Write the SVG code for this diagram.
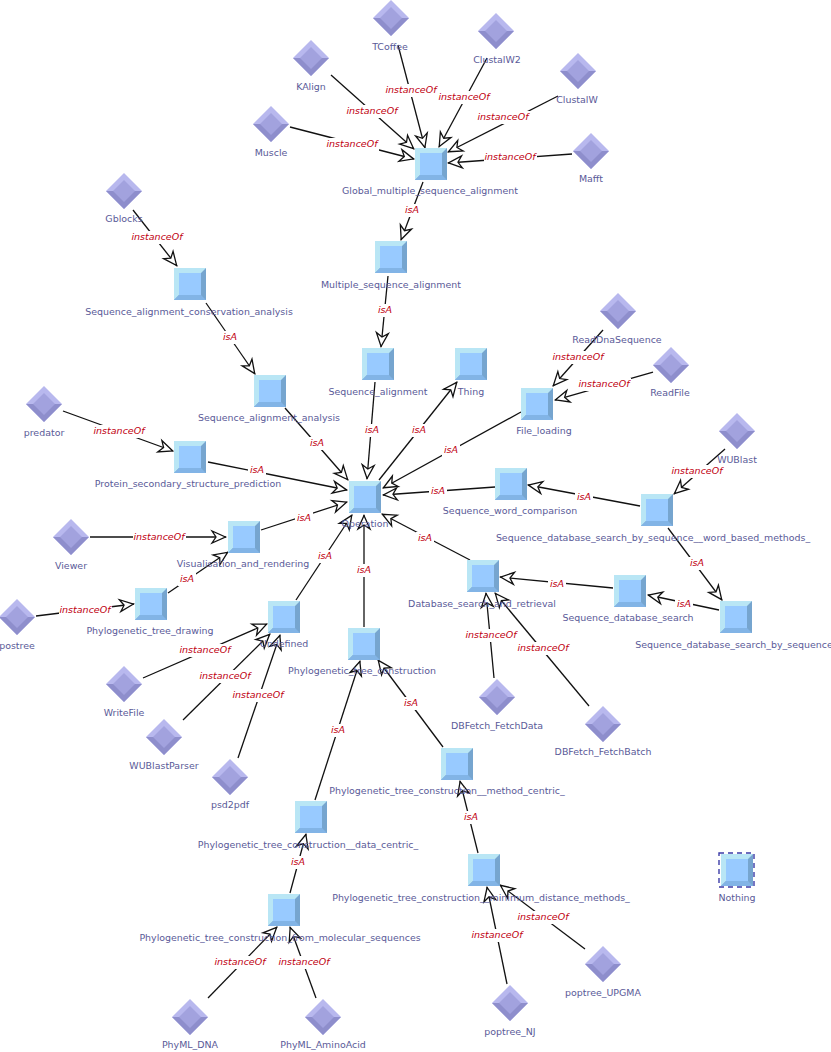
<svg xmlns="http://www.w3.org/2000/svg" xmlns:xlink="http://www.w3.org/1999/xlink" width="831" height="1052" viewBox="0 0 831 1052">
<style>
text{font-family:"DejaVu Sans","Liberation Sans",sans-serif;transform:translateY(-1px)}
.n{font-size:9.45px;fill:#5a5a98;text-anchor:middle}
.e{font-size:9.5px;fill:#c00010;font-style:italic;text-anchor:middle}
.c line{stroke:#111;stroke-width:1.3;marker-end:url(#a)}
.c rect{fill:#fff}
</style>
<defs>
<marker id="a" markerUnits="userSpaceOnUse" markerWidth="20" markerHeight="18" refX="17" refY="9" orient="auto"><path d="M16.5,9 L3,3 L7,9 L3,15 Z" fill="#fff" stroke="#111" stroke-width="1.3" stroke-linejoin="miter"/></marker>
<g id="sq"><rect x="-16" y="-16" width="32" height="32" fill="#b9e6f5"/><path d="M16,-16V16H-16L-11,11H11V-11Z" fill="#76a5cf"/><path d="M-16,16L-11,11H11L16,16Z" fill="#82b4e6"/><rect x="-11" y="-11" width="22" height="22" fill="#98caff"/></g>
<g id="di"><path d="M0,-18L18,0L0,18L-18,0Z" fill="#b8b8ee"/><path d="M18,0L0,18L-18,0L-10,0L0,10L10,0Z" fill="#8e8ecc"/><path d="M0,-11L11,0L0,11L-11,0Z" fill="#a2a2de"/></g>
</defs>
<g id="connectors" class="c">
<line x1="290" y1="127" x2="414" y2="159"/><rect x="326" y="138" width="53" height="13"/><text class="e" x="352" y="148">instanceOf</text>
<line x1="331" y1="75" x2="414" y2="149"/><rect x="346" y="105" width="53" height="13"/><text class="e" x="372" y="115">instanceOf</text>
<line x1="398" y1="45" x2="425" y2="148"/><rect x="385" y="84" width="53" height="13"/><text class="e" x="411" y="94">instanceOf</text>
<line x1="487" y1="58" x2="439" y2="147"/><rect x="438" y="91" width="53" height="13"/><text class="e" x="464" y="101">instanceOf</text>
<line x1="558" y1="96" x2="448" y2="152"/><rect x="477" y="111" width="53" height="13"/><text class="e" x="503" y="121">instanceOf</text>
<line x1="572" y1="154" x2="448" y2="163"/><rect x="484" y="151" width="53" height="13"/><text class="e" x="510" y="161">instanceOf</text>
<line x1="423" y1="182" x2="401" y2="240"/><rect x="403" y="204" width="18" height="13"/><text class="e" x="412" y="214">isA</text>
<line x1="388" y1="276" x2="381" y2="347"/><rect x="376" y="304" width="18" height="13"/><text class="e" x="385" y="314">isA</text>
<line x1="133" y1="210" x2="177" y2="266"/><rect x="131" y="231" width="53" height="13"/><text class="e" x="157" y="241">instanceOf</text>
<line x1="206" y1="303" x2="255" y2="374"/><rect x="221" y="331" width="18" height="13"/><text class="e" x="230" y="341">isA</text>
<line x1="285" y1="408" x2="348" y2="480"/><rect x="308" y="437" width="18" height="13"/><text class="e" x="317" y="447">isA</text>
<line x1="375" y1="382" x2="367" y2="479"/><rect x="363" y="424" width="18" height="13"/><text class="e" x="372" y="434">isA</text>
<line x1="379" y1="480" x2="457" y2="382"/><rect x="410" y="424" width="18" height="13"/><text class="e" x="419" y="434">isA</text>
<line x1="521" y1="412" x2="383" y2="488"/><rect x="442" y="444" width="18" height="13"/><text class="e" x="451" y="454">isA</text>
<line x1="603" y1="330" x2="553" y2="386"/><rect x="552" y="351" width="53" height="13"/><text class="e" x="578" y="361">instanceOf</text>
<line x1="653" y1="372" x2="555" y2="400"/><rect x="578" y="378" width="53" height="13"/><text class="e" x="604" y="388">instanceOf</text>
<line x1="63" y1="411" x2="173" y2="451"/><rect x="93" y="425" width="53" height="13"/><text class="e" x="119" y="435">instanceOf</text>
<line x1="208" y1="462" x2="347" y2="490"/><rect x="248" y="464" width="18" height="13"/><text class="e" x="257" y="474">isA</text>
<line x1="495" y1="487" x2="383" y2="495"/><rect x="429" y="485" width="18" height="13"/><text class="e" x="438" y="495">isA</text>
<line x1="640" y1="506" x2="528" y2="485"/><rect x="575" y="491" width="18" height="13"/><text class="e" x="584" y="501">isA</text>
<line x1="725" y1="449" x2="674" y2="494"/><rect x="671" y="465" width="53" height="13"/><text class="e" x="697" y="475">instanceOf</text>
<line x1="668" y1="528" x2="722" y2="600"/><rect x="688" y="557" width="18" height="13"/><text class="e" x="697" y="567">isA</text>
<line x1="719" y1="610" x2="648" y2="595"/><rect x="675" y="598" width="18" height="13"/><text class="e" x="684" y="608">isA</text>
<line x1="613" y1="588" x2="500" y2="577"/><rect x="548" y="578" width="18" height="13"/><text class="e" x="557" y="588">isA</text>
<line x1="470" y1="560" x2="382" y2="514"/><rect x="416" y="532" width="18" height="13"/><text class="e" x="425" y="542">isA</text>
<line x1="261" y1="530" x2="347" y2="502"/><rect x="295" y="512" width="18" height="13"/><text class="e" x="304" y="522">isA</text>
<line x1="90" y1="537" x2="226" y2="537"/><rect x="133" y="531" width="53" height="13"/><text class="e" x="159" y="541">instanceOf</text>
<line x1="168" y1="593" x2="228" y2="552"/><rect x="178" y="573" width="18" height="13"/><text class="e" x="187" y="583">isA</text>
<line x1="36" y1="616" x2="134" y2="604"/><rect x="59" y="604" width="53" height="13"/><text class="e" x="85" y="614">instanceOf</text>
<line x1="296" y1="600" x2="352" y2="515"/><rect x="316" y="550" width="18" height="13"/><text class="e" x="325" y="560">isA</text>
<line x1="364" y1="627" x2="364" y2="515"/><rect x="355" y="564" width="18" height="13"/><text class="e" x="364" y="574">isA</text>
<line x1="143" y1="678" x2="267" y2="624"/><rect x="179" y="644" width="53" height="13"/><text class="e" x="205" y="654">instanceOf</text>
<line x1="183" y1="720" x2="270" y2="634"/><rect x="199" y="670" width="53" height="13"/><text class="e" x="225" y="680">instanceOf</text>
<line x1="238" y1="758" x2="280" y2="635"/><rect x="232" y="689" width="53" height="13"/><text class="e" x="258" y="699">instanceOf</text>
<line x1="443" y1="747" x2="378" y2="660"/><rect x="402" y="697" width="18" height="13"/><text class="e" x="411" y="707">isA</text>
<line x1="315" y1="800" x2="360" y2="661"/><rect x="329" y="724" width="18" height="13"/><text class="e" x="338" y="734">isA</text>
<line x1="478" y1="853" x2="460" y2="781"/><rect x="462" y="811" width="18" height="13"/><text class="e" x="471" y="821">isA</text>
<line x1="290" y1="893" x2="306" y2="834"/><rect x="289" y="856" width="18" height="13"/><text class="e" x="298" y="866">isA</text>
<line x1="208" y1="998" x2="277" y2="927"/><rect x="214" y="956" width="53" height="13"/><text class="e" x="240" y="966">instanceOf</text>
<line x1="316" y1="998" x2="290" y2="927"/><rect x="278" y="956" width="53" height="13"/><text class="e" x="304" y="966">instanceOf</text>
<line x1="507" y1="984" x2="487" y2="887"/><rect x="471" y="929" width="53" height="13"/><text class="e" x="497" y="939">instanceOf</text>
<line x1="585" y1="949" x2="500" y2="885"/><rect x="517" y="911" width="53" height="13"/><text class="e" x="543" y="921">instanceOf</text>
<line x1="494" y1="678" x2="486" y2="593"/><rect x="465" y="629" width="53" height="13"/><text class="e" x="491" y="639">instanceOf</text>
<line x1="589" y1="706" x2="495" y2="593"/><rect x="517" y="642" width="53" height="13"/><text class="e" x="543" y="652">instanceOf</text>
</g>
<g id="Global_multiple_sequence_alignment"><use href="#sq" x="431" y="164"/><text class="n" x="430" y="195">Global_multiple_sequence_alignment</text></g>
<g id="Multiple_sequence_alignment"><use href="#sq" x="391" y="257"/><text class="n" x="391" y="289">Multiple_sequence_alignment</text></g>
<g id="Sequence_alignment_conservation_analysis"><use href="#sq" x="190" y="284"/><text class="n" x="189" y="316">Sequence_alignment_conservation_analysis</text></g>
<g id="Sequence_alignment"><use href="#sq" x="378" y="364"/><text class="n" x="378" y="396">Sequence_alignment</text></g>
<g id="Thing"><use href="#sq" x="471" y="364"/><text class="n" x="471" y="396">Thing</text></g>
<g id="File_loading"><use href="#sq" x="537" y="404"/><text class="n" x="544" y="435">File_loading</text></g>
<g id="Sequence_alignment_analysis"><use href="#sq" x="270" y="391"/><text class="n" x="269" y="422">Sequence_alignment_analysis</text></g>
<g id="Protein_secondary_structure_prediction"><use href="#sq" x="190" y="457"/><text class="n" x="188" y="488">Protein_secondary_structure_prediction</text></g>
<g id="Operation"><use href="#sq" x="365" y="497"/><text class="n" x="365" y="528">Operation</text></g>
<g id="Sequence_word_comparison"><use href="#sq" x="511" y="484"/><text class="n" x="510" y="515">Sequence_word_comparison</text></g>
<g id="Sequence_database_search_by_sequence__word_based_methods_"><use href="#sq" x="657" y="510"/><text class="n" x="653" y="542">Sequence_database_search_by_sequence__word_based_methods_</text></g>
<g id="Visualisation_and_rendering"><use href="#sq" x="244" y="537"/><text class="n" x="243" y="568">Visualisation_and_rendering</text></g>
<g id="Database_search_and_retrieval"><use href="#sq" x="483" y="576"/><text class="n" x="482" y="608">Database_search_and_retrieval</text></g>
<g id="Sequence_database_search"><use href="#sq" x="630" y="591"/><text class="n" x="628" y="622">Sequence_database_search</text></g>
<g id="Sequence_database_search_by_sequence"><use href="#sq" x="736" y="617"/><text class="n" x="734" y="649">Sequence_database_search_by_sequence</text></g>
<g id="Phylogenetic_tree_drawing"><use href="#sq" x="151" y="604"/><text class="n" x="150" y="635">Phylogenetic_tree_drawing</text></g>
<g id="Undefined"><use href="#sq" x="284" y="617"/><text class="n" x="284" y="648">Undefined</text></g>
<g id="Phylogenetic_tree_construction"><use href="#sq" x="364" y="644"/><text class="n" x="362" y="675">Phylogenetic_tree_construction</text></g>
<g id="Phylogenetic_tree_construction__method_centric_"><use href="#sq" x="457" y="764"/><text class="n" x="447" y="795">Phylogenetic_tree_construction__method_centric_</text></g>
<g id="Phylogenetic_tree_construction__data_centric_"><use href="#sq" x="311" y="817"/><text class="n" x="308" y="849">Phylogenetic_tree_construction__data_centric_</text></g>
<g id="Phylogenetic_tree_construction__minimum_distance_methods_"><use href="#sq" x="484" y="870"/><text class="n" x="481" y="902">Phylogenetic_tree_construction__minimum_distance_methods_</text></g>
<g id="Phylogenetic_tree_construction_from_molecular_sequences"><use href="#sq" x="284" y="910"/><text class="n" x="280" y="942">Phylogenetic_tree_construction_from_molecular_sequences</text></g>
<g id="Nothing"><use href="#sq" x="737" y="870"/><rect x="719" y="853" width="35" height="34" fill="none" stroke="#3c3ca8" stroke-width="1.4" stroke-dasharray="5 4"/><text class="n" x="737" y="902">Nothing</text></g>
<g id="TCoffee"><use href="#di" x="391" y="18"/><text class="n" x="390" y="51">TCoffee</text></g>
<g id="ClustalW2"><use href="#di" x="496" y="31"/><text class="n" x="497" y="64">ClustalW2</text></g>
<g id="KAlign"><use href="#di" x="311" y="58"/><text class="n" x="311" y="91">KAlign</text></g>
<g id="ClustalW"><use href="#di" x="578" y="71"/><text class="n" x="577" y="104">ClustalW</text></g>
<g id="Muscle"><use href="#di" x="271" y="124"/><text class="n" x="271" y="157">Muscle</text></g>
<g id="Mafft"><use href="#di" x="591" y="151"/><text class="n" x="591" y="183">Mafft</text></g>
<g id="Gblocks"><use href="#di" x="124" y="191"/><text class="n" x="124" y="223">Gblocks</text></g>
<g id="ReadDnaSequence"><use href="#di" x="618" y="311"/><text class="n" x="617" y="344">ReadDnaSequence</text></g>
<g id="ReadFile"><use href="#di" x="671" y="365"/><text class="n" x="670" y="397">ReadFile</text></g>
<g id="predator"><use href="#di" x="44" y="404"/><text class="n" x="44" y="437">predator</text></g>
<g id="WUBlast"><use href="#di" x="737" y="431"/><text class="n" x="737" y="464">WUBlast</text></g>
<g id="Viewer"><use href="#di" x="71" y="537"/><text class="n" x="71" y="570">Viewer</text></g>
<g id="postree"><use href="#di" x="17" y="617"/><text class="n" x="17" y="650">postree</text></g>
<g id="WriteFile"><use href="#di" x="124" y="684"/><text class="n" x="124" y="717">WriteFile</text></g>
<g id="WUBlastParser"><use href="#di" x="164" y="737"/><text class="n" x="164" y="770">WUBlastParser</text></g>
<g id="psd2pdf"><use href="#di" x="230" y="777"/><text class="n" x="230" y="809">psd2pdf</text></g>
<g id="DBFetch_FetchData"><use href="#di" x="497" y="697"/><text class="n" x="497" y="730">DBFetch_FetchData</text></g>
<g id="DBFetch_FetchBatch"><use href="#di" x="603" y="724"/><text class="n" x="603" y="756">DBFetch_FetchBatch</text></g>
<g id="poptree_UPGMA"><use href="#di" x="603" y="964"/><text class="n" x="603" y="997">poptree_UPGMA</text></g>
<g id="poptree_NJ"><use href="#di" x="510" y="1003"/><text class="n" x="510" y="1036">poptree_NJ</text></g>
<g id="PhyML_DNA"><use href="#di" x="190" y="1017"/><text class="n" x="190" y="1049">PhyML_DNA</text></g>
<g id="PhyML_AminoAcid"><use href="#di" x="323" y="1017"/><text class="n" x="323" y="1049">PhyML_AminoAcid</text></g>
</svg>
